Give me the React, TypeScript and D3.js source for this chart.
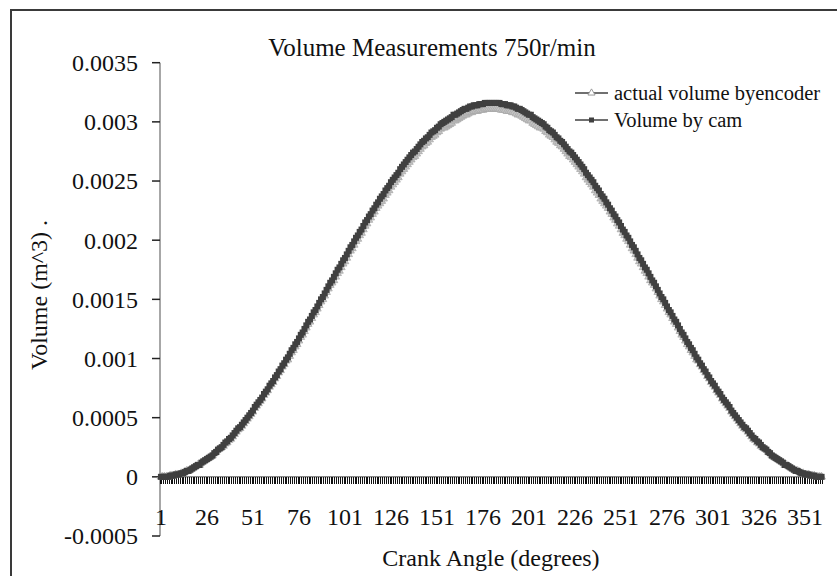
import React, { useEffect, useRef } from 'react'
import * as d3 from 'd3'

// volumes in units of 1e-5 m^3, one value per crank angle category (1..360)
const UNIT = 1e-5

const volumeByCam = [
  0, 0, 0, 0, 0, 1, 1, 1, 2, 2, 2, 3, 3, 4, 5, 5, 6, 7, 8, 9,
  10, 10, 12, 13, 14, 15, 16, 17, 18, 20, 21, 23, 24, 25, 27, 29, 30, 32, 33, 35,
  37, 39, 41, 42, 44, 46, 48, 50, 52, 54, 56, 59, 61, 63, 65, 67, 70, 72, 74, 77,
  79, 81, 84, 86, 89, 91, 94, 96, 99, 101, 104, 107, 109, 112, 114, 117, 120, 122, 125, 128,
  131, 133, 136, 139, 141, 144, 147, 150, 152, 155, 158, 161, 164, 166, 169, 172, 175, 177, 180, 183,
  185, 188, 191, 194, 196, 199, 202, 204, 207, 209, 212, 215, 217, 220, 222, 225, 227, 230, 232, 235,
  237, 239, 242, 244, 246, 249, 251, 253, 255, 257, 260, 262, 264, 266, 268, 270, 272, 274, 275, 277,
  279, 281, 283, 284, 286, 287, 289, 291, 292, 293, 295, 296, 298, 299, 300, 301, 302, 303, 304, 306,
  306, 307, 308, 309, 310, 311, 311, 312, 313, 313, 314, 314, 314, 315, 315, 315, 316, 316, 316, 316,
  316, 316, 316, 316, 316, 315, 315, 315, 314, 314, 314, 313, 313, 312, 311, 311, 310, 309, 308, 307,
  306, 306, 304, 303, 302, 301, 300, 299, 298, 296, 295, 293, 292, 291, 289, 287, 286, 284, 283, 281,
  279, 277, 275, 274, 272, 270, 268, 266, 264, 262, 260, 257, 255, 253, 251, 249, 246, 244, 242, 239,
  237, 235, 232, 230, 227, 225, 222, 220, 217, 215, 212, 209, 207, 204, 202, 199, 196, 194, 191, 188,
  185, 183, 180, 177, 175, 172, 169, 166, 164, 161, 158, 155, 152, 150, 147, 144, 141, 139, 136, 133,
  131, 128, 125, 122, 120, 117, 114, 112, 109, 107, 104, 101, 99, 96, 94, 91, 89, 86, 84, 81,
  79, 77, 74, 72, 70, 67, 65, 63, 61, 59, 56, 54, 52, 50, 48, 46, 44, 42, 41, 39,
  37, 35, 33, 32, 30, 29, 27, 25, 24, 23, 21, 20, 18, 17, 16, 15, 14, 13, 12, 10,
  10, 9, 8, 7, 6, 5, 5, 4, 3, 3, 2, 2, 2, 1, 1, 1, 0, 0, 0, 0,
]

const actualVolume = [
  0, 0, 0, 0, 0, 1, 1, 1, 2, 2, 2, 3, 3, 4, 5, 5, 6, 7, 8, 9,
  10, 10, 12, 13, 14, 15, 16, 17, 18, 20, 21, 23, 24, 25, 26, 28, 29, 31, 32, 34,
  36, 38, 40, 41, 43, 45, 47, 49, 51, 53, 55, 58, 60, 62, 64, 66, 69, 71, 73, 76,
  78, 80, 83, 85, 88, 90, 93, 95, 98, 99, 102, 105, 107, 110, 112, 115, 118, 120, 123, 126,
  129, 131, 134, 137, 139, 142, 145, 148, 150, 153, 156, 159, 162, 164, 166, 169, 172, 174, 177, 180,
  182, 185, 188, 191, 193, 196, 199, 201, 204, 206, 209, 212, 214, 217, 219, 222, 224, 227, 229, 231,
  233, 235, 238, 240, 242, 245, 247, 249, 251, 253, 256, 258, 260, 262, 264, 266, 268, 270, 271, 273,
  275, 277, 279, 280, 282, 283, 285, 287, 288, 289, 291, 292, 294, 295, 295, 296, 297, 298, 299, 301,
  301, 302, 303, 304, 305, 306, 306, 307, 308, 308, 309, 309, 309, 310, 310, 310, 311, 311, 311, 311,
  311, 311, 311, 311, 311, 310, 310, 310, 309, 309, 309, 308, 308, 307, 306, 306, 305, 304, 303, 302,
  301, 301, 299, 298, 297, 296, 295, 295, 294, 292, 291, 289, 288, 287, 285, 283, 282, 280, 279, 277,
  275, 273, 271, 270, 268, 266, 264, 262, 260, 258, 256, 253, 251, 249, 247, 245, 242, 240, 238, 235,
  233, 231, 229, 227, 224, 222, 219, 217, 214, 212, 209, 206, 204, 201, 199, 196, 193, 191, 188, 185,
  182, 180, 177, 174, 172, 169, 166, 164, 162, 159, 156, 153, 150, 148, 145, 142, 139, 137, 134, 131,
  129, 126, 123, 120, 118, 115, 112, 110, 107, 105, 102, 99, 98, 95, 93, 90, 88, 85, 83, 80,
  78, 76, 73, 71, 69, 66, 64, 62, 60, 58, 55, 53, 51, 49, 47, 45, 43, 41, 40, 38,
  36, 34, 32, 31, 29, 28, 26, 25, 24, 23, 21, 20, 18, 17, 16, 15, 14, 13, 12, 10,
  10, 9, 8, 7, 6, 5, 5, 4, 3, 3, 2, 2, 2, 1, 1, 1, 0, 0, 0, 0,
]

const xTickLabels = [1, 26, 51, 76, 101, 126, 151, 176, 201, 226, 251, 276, 301, 326, 351]
const yTicks = [-0.0005, 0, 0.0005, 0.001, 0.0015, 0.002, 0.0025, 0.003, 0.0035]
const yTickLabels = ['-0.0005', '0', '0.0005', '0.001', '0.0015', '0.002', '0.0025', '0.003', '0.0035']
const seriesNames = ['actual volume byencoder', 'Volume by cam']

const FONT = "'Liberation Serif', 'Times New Roman', serif"

const App = () => {
  const svgRef = useRef<SVGSVGElement>(null)

  useEffect(() => {
    const width = 837
    const height = 576
    const plot = { left: 160, right: 822.5, top: 62.7, bottom: 536 }

    const svg = d3.select(svgRef.current).attr('width', width).attr('height', height)
    svg.selectAll('*').remove()

    // chart frame
    svg.append('rect')
      .attr('x', 11).attr('y', 10)
      .attr('width', 840).attr('height', 580)
      .attr('fill', '#fff')
      .attr('stroke', '#3a3a3a')
      .attr('stroke-width', 2)

    const angles = volumeByCam.map((_, i) => i + 1)
    const x = d3.scaleBand<number>().domain(angles).range([plot.left, plot.right])
    const y = d3.scaleLinear().domain([-0.0005, 0.0035]).range([plot.bottom, plot.top])
    const cx = (d: number) => (x(d) as number) + x.bandwidth() / 2
    const y0 = y(0)

    // y axis
    svg.append('line')
      .attr('x1', plot.left).attr('x2', plot.left)
      .attr('y1', plot.top).attr('y2', plot.bottom)
      .attr('stroke', '#8a8a8a').attr('stroke-width', 1.5)

    const yAxis = svg.append('g')
    yAxis.selectAll('line')
      .data(yTicks)
      .join('line')
      .attr('x1', plot.left - 8).attr('x2', plot.left)
      .attr('y1', (d) => y(d)).attr('y2', (d) => y(d))
      .attr('stroke', '#222').attr('stroke-width', 1.5)
    yAxis.selectAll('text')
      .data(yTicks)
      .join('text')
      .attr('x', 138)
      .attr('y', (d) => y(d))
      .attr('dy', '0.35em')
      .attr('text-anchor', 'end')
      .attr('font-family', FONT)
      .attr('font-size', 24)
      .attr('fill', '#111')
      .text((_, i) => yTickLabels[i])

    // x axis crossing at 0, a tick at every category boundary
    svg.append('line')
      .attr('x1', plot.left).attr('x2', plot.right)
      .attr('y1', y0).attr('y2', y0)
      .attr('stroke', '#8a8a8a').attr('stroke-width', 1.5)

    const bounds = angles.map((d) => x(d) as number).concat([plot.right])
    svg.append('g')
      .attr('shape-rendering', 'crispEdges')
      .selectAll('line')
      .data(bounds)
      .join('line')
      .attr('x1', (d) => d).attr('x2', (d) => d)
      .attr('y1', y0).attr('y2', y0 + 7)
      .attr('stroke', '#111').attr('stroke-width', 1)

    svg.append('g')
      .selectAll('text')
      .data(xTickLabels)
      .join('text')
      .attr('x', (d) => cx(d))
      .attr('y', 525)
      .attr('text-anchor', 'middle')
      .attr('font-family', FONT)
      .attr('font-size', 24)
      .attr('fill', '#111')
      .text((d) => String(d))

    // series
    const line = d3.line<number>()
      .x((_, i) => cx(angles[i]))
      .y((v) => y(v * UNIT))

    svg.append('path')
      .datum(actualVolume)
      .attr('d', line)
      .attr('fill', 'none')
      .attr('stroke', '#9a9a9a')
      .attr('stroke-width', 1.5)

    const tri = d3.symbol().type(d3.symbolTriangle).size(26)
    svg.append('g')
      .selectAll('path')
      .data(actualVolume)
      .join('path')
      .attr('transform', (v, i) => `translate(${cx(angles[i])},${y(v * UNIT)})`)
      .attr('d', tri)
      .attr('fill', '#c4c4c4')
      .attr('stroke', '#a8a8a8')
      .attr('stroke-width', 0.8)

    svg.append('path')
      .datum(volumeByCam)
      .attr('d', line)
      .attr('fill', 'none')
      .attr('stroke', '#404040')
      .attr('stroke-width', 1.5)

    svg.append('g')
      .selectAll('rect')
      .data(volumeByCam)
      .join('rect')
      .attr('x', (_, i) => cx(angles[i]) - 3)
      .attr('y', (v) => y(v * UNIT) - 3)
      .attr('width', 6)
      .attr('height', 6)
      .attr('fill', '#404040')

    // legend
    const legend = svg.append('g')
    seriesNames.forEach((name, i) => {
      const ly = 93 + i * 27
      legend.append('line')
        .attr('x1', 575).attr('x2', 608)
        .attr('y1', ly).attr('y2', ly)
        .attr('stroke', '#404040').attr('stroke-width', 1.5)
      if (i === 0) {
        legend.append('path')
          .attr('transform', `translate(591.5,${ly})`)
          .attr('d', d3.symbol().type(d3.symbolTriangle).size(22)())
          .attr('fill', '#fff')
          .attr('stroke', '#999')
      } else {
        legend.append('rect')
          .attr('x', 589).attr('y', ly - 2.5)
          .attr('width', 5).attr('height', 5)
          .attr('fill', '#404040')
      }
      legend.append('text')
        .attr('x', 614).attr('y', ly)
        .attr('dy', '0.35em')
        .attr('font-family', FONT)
        .attr('font-size', 20.5)
        .attr('fill', '#111')
        .text(name)
    })

    // titles
    svg.append('text')
      .attr('x', 432).attr('y', 56)
      .attr('text-anchor', 'middle')
      .attr('font-family', FONT)
      .attr('font-size', 25)
      .attr('fill', '#111')
      .text('Volume Measurements 750r/min')

    svg.append('text')
      .attr('x', 491).attr('y', 566)
      .attr('text-anchor', 'middle')
      .attr('font-family', FONT)
      .attr('font-size', 24)
      .attr('fill', '#111')
      .text('Crank Angle (degrees)')

    svg.append('text')
      .attr('transform', 'translate(47,295) rotate(-90)')
      .attr('text-anchor', 'middle')
      .attr('font-family', FONT)
      .attr('font-size', 24)
      .attr('fill', '#111')
      .text('Volume (m^3) .')
  }, [])

  return <svg ref={svgRef} style={{ position: 'absolute', left: 0, top: 0 }}></svg>
}

export default App
